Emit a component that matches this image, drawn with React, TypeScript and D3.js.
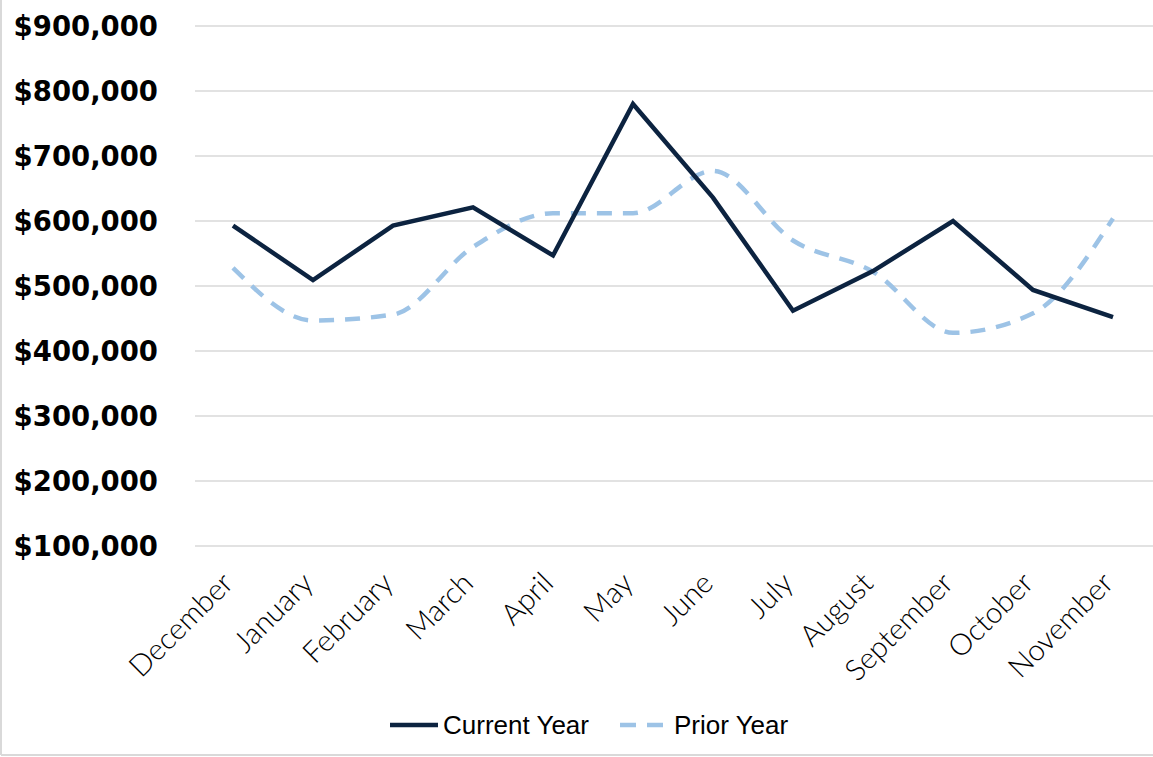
import React, { useEffect } from 'react';
import * as d3 from 'd3';

const months = [
  'December', 'January', 'February', 'March', 'April', 'May',
  'June', 'July', 'August', 'September', 'October', 'November',
];
const currentYear = [593000, 509000, 593000, 621000, 547000, 780000, 636000, 462000, 523000, 600000, 494000, 452000];
const priorYear = [528000, 447000, 456000, 560000, 612000, 612000, 677000, 570000, 522000, 428000, 458000, 604000];
const yTicks = [100000, 200000, 300000, 400000, 500000, 600000, 700000, 800000, 900000];

const W = 1153;
const H = 757;
const NAVY = '#0c2340';
const LIGHT = '#9dc3e6';
const GRID = '#d9d9d9';

const App: React.FC = () => {
  useEffect(() => {
    document.body.style.margin = '0';
  }, []);

  const x = d3.scalePoint<string>().domain(months).range([233, 1113]);
  const y = d3.scaleLinear().domain([100000, 900000]).range([546, 26]);
  const fmt = d3.format('$,.0f');

  const straight = d3
    .line<number>()
    .x((_, i) => x(months[i]) as number)
    .y((d) => y(d));
  // Excel-style smoothed line, without overshoot
  const smooth = d3
    .line<number>()
    .x((_, i) => x(months[i]) as number)
    .y((d) => y(d))
    .curve(d3.curveMonotoneX);

  return (
    <svg width={W} height={H} style={{ display: 'block', background: '#fff' }}>
      {/* frame */}
      <line x1={1} x2={1} y1={0} y2={755} stroke={GRID} strokeWidth={2} />
      <line x1={1} x2={W} y1={755} y2={755} stroke={GRID} strokeWidth={2} />

      {/* grid + y labels */}
      {yTicks.map((t) => (
        <g key={t}>
          <line x1={195} x2={W} y1={y(t)} y2={y(t)} stroke={GRID} strokeWidth={1.5} />
          <text
            x={158}
            y={y(t)}
            dy="0.36em"
            textAnchor="end"
            fontFamily="DejaVu Sans"
            fontWeight={700}
            fontSize={27.5}
            fill="#000"
          >
            {fmt(t)}
          </text>
        </g>
      ))}

      {/* x labels */}
      {months.map((m) => (
        <text
          key={m}
          transform={`translate(${(x(m) as number) + 2},${585}) rotate(-45)`}
          textAnchor="end"
          fontFamily="Lato"
          fontWeight={300}
          fontSize={29.5}
          fill="#000"
        >
          {m}
        </text>
      ))}

      {/* series */}
      <path
        d={smooth(priorYear) || ''}
        fill="none"
        stroke={LIGHT}
        strokeWidth={4.5}
        strokeDasharray="15 11"
      />
      <path
        d={straight(currentYear) || ''}
        fill="none"
        stroke={NAVY}
        strokeWidth={4.5}
        strokeLinejoin="miter"
      />

      {/* legend */}
      <line x1={390} x2={438} y1={725} y2={725} stroke={NAVY} strokeWidth={4.5} />
      <text x={443} y={725} dy="0.36em" fontFamily="Liberation Sans" fontSize={26} fill="#000">
        Current Year
      </text>
      <line x1={620} x2={663} y1={725} y2={725} stroke={LIGHT} strokeWidth={4.5} strokeDasharray="16 11" />
      <text x={674} y={725} dy="0.36em" fontFamily="Liberation Sans" fontSize={26} fill="#000">
        Prior Year
      </text>
    </svg>
  );
};

export default App;
